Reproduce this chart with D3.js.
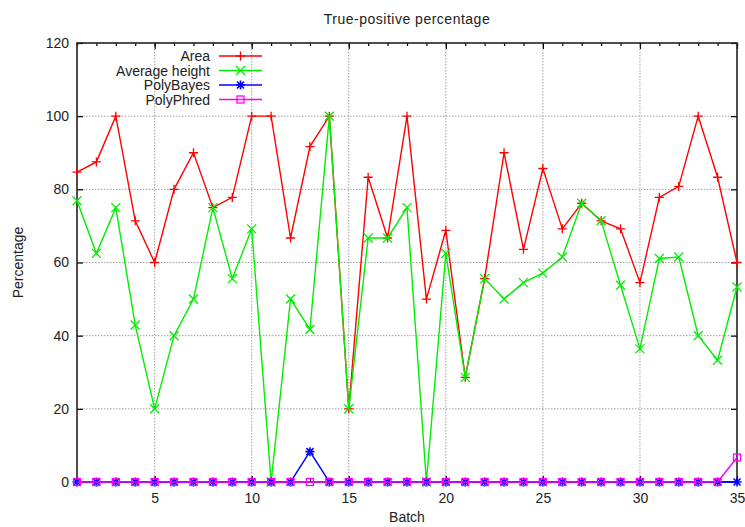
<!DOCTYPE html>
<html><head><meta charset="utf-8">
<script src="https://cdn.jsdelivr.net/npm/d3@7"></script>
<style>body{margin:0;background:#fff}svg{display:block;font-family:"Liberation Sans",Arial,sans-serif}</style>
</head><body>
<svg id="c" width="745" height="527"></svg>
<script>
const batches = d3.range(1, 36);
const area = [84.7,87.5,100,71.4,60,80,90,75,77.8,100,100,66.7,91.7,100,20,83.3,66.7,100,50,68.8,28.6,55.6,90,63.6,85.7,69.2,76.2,71.4,69.2,54.5,77.8,80.8,100,83.3,60];
const avgHeight = [76.9,62.5,75,42.9,20,40,50,75,55.6,69.2,0,50,41.7,100,20,66.7,66.7,75,0,62.5,28.6,55.6,50,54.5,57.1,61.5,76.2,71.4,53.8,36.4,61.1,61.5,40,33.3,53.3];
const polyBayes = [0,0,0,0,0,0,0,0,0,0,0,0,8.3,0,0,0,0,0,0,0,0,0,0,0,0,0,0,0,0,0,0,0,0,0,0];
const polyPhred = [0,0,0,0,0,0,0,0,0,0,0,0,0,0,0,0,0,0,0,0,0,0,0,0,0,0,0,0,0,0,0,0,0,0,6.7];
const seriesNames = ["Area","Average height","PolyBayes","PolyPhred"];
const xTicks = [5,10,15,20,25,30,35];
const yTicks = [0,20,40,60,80,100,120];

const svg = d3.select("#c");
const L=77, R=737, T=43, B=482;
const x = d3.scaleLinear().domain([1,35]).range([L,R]);
const y = d3.scaleLinear().domain([0,120]).range([B,T]);

// grid
const g = svg.append("g");
g.selectAll(".gx").data(xTicks.filter(d=>d<35)).join("line")
  .attr("x1",d=>x(d)).attr("x2",d=>x(d)).attr("y1",T).attr("y2",B)
  .attr("stroke","#a0a0a0").attr("stroke-width",1).attr("stroke-dasharray","1.5,1.5");
g.selectAll(".gy").data(yTicks.filter(d=>d>0&&d<120)).join("line")
  .attr("y1",d=>y(d)).attr("y2",d=>y(d)).attr("x1",L).attr("x2",R)
  .attr("stroke","#a0a0a0").attr("stroke-width",1).attr("stroke-dasharray","1.5,1.5");

// axes via d3
const fs = 14;
const ax = svg.append("g").attr("transform",`translate(0,${B})`)
  .call(d3.axisBottom(x).tickValues(xTicks).tickSize(-6).tickPadding(11).tickFormat(d3.format("d")));
const ay = svg.append("g").attr("transform",`translate(${L},0)`)
  .call(d3.axisLeft(y).tickValues(yTicks).tickSize(-6).tickPadding(8).tickFormat(d3.format("d")));
const axTop = svg.append("g").attr("transform",`translate(0,${T})`)
  .call(d3.axisTop(x).tickValues(xTicks).tickSize(-6).tickFormat(""));
const ayR = svg.append("g").attr("transform",`translate(${R},0)`)
  .call(d3.axisRight(y).tickValues(yTicks).tickSize(-6).tickFormat(""));
const axMinB = svg.append("g").attr("transform",`translate(0,${B})`)
  .call(d3.axisBottom(x).tickValues(batches).tickSize(-3).tickFormat(""));
const axMinT = svg.append("g").attr("transform",`translate(0,${T})`)
  .call(d3.axisTop(x).tickValues(batches).tickSize(-3).tickFormat(""));
[ax,ay,axTop,ayR,axMinB,axMinT].forEach(a=>{
  a.select(".domain").remove();
  a.selectAll("line").attr("stroke","#000").attr("stroke-width",1.2);
  a.selectAll("text").attr("font-size",fs).attr("fill","#222").attr("font-family","Liberation Sans, Arial, sans-serif");
});
svg.append("rect").attr("x",L).attr("y",T).attr("width",R-L).attr("height",B-T)
  .attr("fill","none").attr("stroke","#222").attr("stroke-width",1.6);

// title and labels
svg.append("text").attr("x",(L+R)/2).attr("y",24).attr("text-anchor","middle").attr("font-size",14).attr("letter-spacing",0.5).attr("fill","#222").text("True-positive percentage");
svg.append("text").attr("x",(L+R)/2).attr("y",522).attr("text-anchor","middle").attr("font-size",14).attr("fill","#222").text("Batch");
svg.append("text").attr("transform",`translate(23,${(T+B)/2}) rotate(-90)`).attr("text-anchor","middle").attr("font-size",14).attr("fill","#222").text("Percentage");

// markers
function marker(sel, type, color){
  const s=4.5;
  if(type==="plus"){
    sel.append("path").attr("d",`M${-s},0H${s}M0,${-s}V${s}`).attr("stroke",color).attr("stroke-width",1.3).attr("fill","none");
  } else if(type==="cross"){
    sel.append("path").attr("d",`M${-s},${-s}L${s},${s}M${-s},${s}L${s},${-s}`).attr("stroke",color).attr("stroke-width",1.3).attr("fill","none");
  } else if(type==="star"){
    sel.append("path").attr("d",`M${-s},0H${s}M0,${-s}V${s}M${-s+1},${-s+1}L${s-1},${s-1}M${-s+1},${s-1}L${s-1},${-s+1}`).attr("stroke",color).attr("stroke-width",1.6).attr("fill","none");
  } else {
    sel.append("rect").attr("x",-3.5).attr("y",-3.5).attr("width",7).attr("height",7).attr("stroke",color).attr("stroke-width",1.3).attr("fill","none");
  }
}
const series = [
  {name:seriesNames[0], vals:area, color:"#ff0000", m:"plus"},
  {name:seriesNames[1], vals:avgHeight, color:"#00ee00", m:"cross"},
  {name:seriesNames[2], vals:polyBayes, color:"#0000ff", m:"star"},
  {name:seriesNames[3], vals:polyPhred, color:"#ff00ff", m:"square"}
];
const line = d3.line().x((d,i)=>x(batches[i])).y(d=>y(d));
series.forEach((s,k)=>{
  svg.append("path").datum(s.vals).attr("d",line).attr("fill","none").attr("stroke",s.color).attr("stroke-width",1.4);
  svg.append("g").selectAll("g").data(s.vals).join("g")
    .attr("transform",(d,i)=>`translate(${x(batches[i])},${y(d)})`)
    .each(function(){ marker(d3.select(this), s.m, s.color); });
  // legend
  const ly = 56 + k*14.5;
  svg.append("text").attr("x",210).attr("y",ly+5).attr("text-anchor","end").attr("font-size",14).attr("fill","#222").text(s.name);
  svg.append("line").attr("x1",219).attr("x2",262).attr("y1",ly).attr("y2",ly).attr("stroke",s.color).attr("stroke-width",1.4);
  const lg = svg.append("g").attr("transform",`translate(240.5,${ly})`);
  marker(lg, s.m, s.color);
});
</script>
</body></html>
